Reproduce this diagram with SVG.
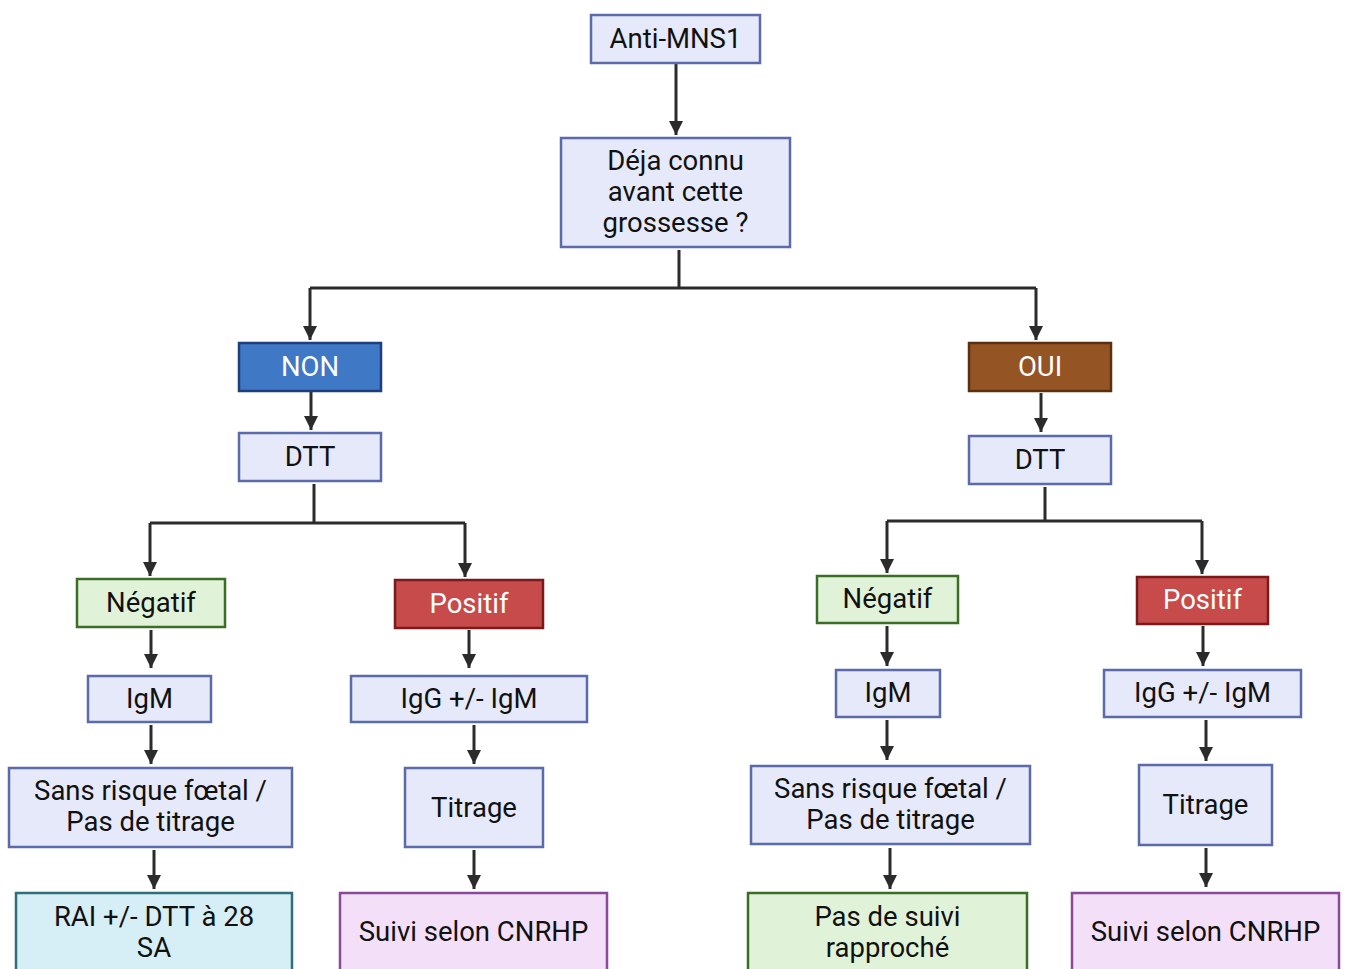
<svg xmlns="http://www.w3.org/2000/svg" width="1346" height="969" viewBox="0 0 1346 969">
<defs>
<marker id="ah" markerUnits="userSpaceOnUse" markerWidth="16" markerHeight="16" viewBox="0 0 16 16" refX="14" refY="8" orient="auto">
<path d="M0,1 L14,8 L0,15 Z" fill="#2b2b2b"/>
</marker>
<style>
rect{stroke-width:2.5}
.b{fill:#e5e9f9;stroke:#5a6aaa}
.non{fill:#3f78c4;stroke:#1f3e7e}
.oui{fill:#955423;stroke:#5a3010}
.neg{fill:#e0f3d9;stroke:#3a6e25}
.pos{fill:#c84b4b;stroke:#7a1a1a}
.rai{fill:#d6eef5;stroke:#2f6f7a}
.sv{fill:#f3e0f8;stroke:#8a4a9a}
.psv{fill:#e0f3d9;stroke:#3a6e25}
text{font-family:Roboto,"Liberation Sans",sans-serif;font-size:27.5px;fill:#111;text-anchor:middle}
text.w{fill:#fff}
.c path,.c line{stroke:#2b2b2b;stroke-width:3;fill:none}
</style>
</defs>
<rect width="1346" height="969" fill="#fff" style="stroke:none"/>
<g class="c" id="connectors">
<line x1="676" y1="63" x2="676" y2="135" marker-end="url(#ah)"/>
<path d="M679,250 V288"/>
<path d="M310,288 H1036"/>
<line x1="310" y1="288" x2="310" y2="340" marker-end="url(#ah)"/>
<line x1="1036" y1="288" x2="1036" y2="340" marker-end="url(#ah)"/>
<line x1="311" y1="391" x2="311" y2="430" marker-end="url(#ah)"/>
<path d="M314,484 V523 M150,523 H465"/>
<line x1="150" y1="523" x2="150" y2="576" marker-end="url(#ah)"/>
<line x1="465" y1="523" x2="465" y2="577" marker-end="url(#ah)"/>
<line x1="151" y1="630" x2="151" y2="668" marker-end="url(#ah)"/>
<line x1="151" y1="725" x2="151" y2="764" marker-end="url(#ah)"/>
<line x1="154" y1="850" x2="154" y2="889" marker-end="url(#ah)"/>
<line x1="469" y1="630" x2="469" y2="668" marker-end="url(#ah)"/>
<line x1="474" y1="725" x2="474" y2="764" marker-end="url(#ah)"/>
<line x1="474" y1="850" x2="474" y2="889" marker-end="url(#ah)"/>
<line x1="1041" y1="393" x2="1041" y2="432" marker-end="url(#ah)"/>
<path d="M1045,487 V521 M887,521 H1202"/>
<line x1="887" y1="521" x2="887" y2="573" marker-end="url(#ah)"/>
<line x1="1202" y1="521" x2="1202" y2="574" marker-end="url(#ah)"/>
<line x1="887" y1="626" x2="887" y2="666" marker-end="url(#ah)"/>
<line x1="887" y1="720" x2="887" y2="760" marker-end="url(#ah)"/>
<line x1="890" y1="848" x2="890" y2="889" marker-end="url(#ah)"/>
<line x1="1203" y1="626" x2="1203" y2="666" marker-end="url(#ah)"/>
<line x1="1206" y1="720" x2="1206" y2="761" marker-end="url(#ah)"/>
<line x1="1206" y1="848" x2="1206" y2="887" marker-end="url(#ah)"/>
</g>
<g id="anti"><rect class="b" x="591" y="15" width="169" height="48"/><text x="675.5" y="48">Anti-MNS1</text></g>
<g id="deja"><rect class="b" x="561" y="138" width="229" height="109"/><text x="675.5" y="170">Déja connu</text><text x="675.5" y="201">avant cette</text><text x="675.5" y="232">grossesse ?</text></g>
<g id="non"><rect class="non" x="239" y="343" width="142" height="48"/><text class="w" x="310" y="376">NON</text></g>
<g id="dtt1"><rect class="b" x="239" y="433" width="142" height="48"/><text x="310" y="466">DTT</text></g>
<g id="neg1"><rect class="neg" x="77" y="579" width="148" height="48"/><text x="151" y="612">Négatif</text></g>
<g id="pos1"><rect class="pos" x="395" y="580" width="148" height="48"/><text class="w" x="469" y="613">Positif</text></g>
<g id="igm1"><rect class="b" x="88" y="676" width="123" height="46"/><text x="149.5" y="708">IgM</text></g>
<g id="sans1"><rect class="b" x="9" y="768" width="283" height="79"/><text x="150.5" y="800">Sans risque fœtal /</text><text x="150.5" y="831">Pas de titrage</text></g>
<g id="rai"><rect class="rai" x="16" y="893" width="276" height="90"/><text x="154" y="926">RAI +/- DTT à 28</text><text x="154" y="957">SA</text></g>
<g id="igg1"><rect class="b" x="351" y="676" width="236" height="46"/><text x="469" y="708">IgG +/- IgM</text></g>
<g id="tit1"><rect class="b" x="405" y="768" width="138" height="79"/><text x="474" y="817">Titrage</text></g>
<g id="suivi1"><rect class="sv" x="340" y="893" width="267" height="90"/><text x="473.5" y="941">Suivi selon CNRHP</text></g>
<g id="oui"><rect class="oui" x="969" y="343" width="142" height="48"/><text class="w" x="1040" y="376">OUI</text></g>
<g id="dtt2"><rect class="b" x="969" y="436" width="142" height="48"/><text x="1040" y="469">DTT</text></g>
<g id="neg2"><rect class="neg" x="817" y="576" width="141" height="47"/><text x="887.5" y="608">Négatif</text></g>
<g id="pos2"><rect class="pos" x="1137" y="577" width="131" height="47"/><text class="w" x="1202.5" y="609">Positif</text></g>
<g id="igm2"><rect class="b" x="836" y="670" width="104" height="47"/><text x="888" y="702">IgM</text></g>
<g id="sans2"><rect class="b" x="751" y="766" width="279" height="78"/><text x="890.5" y="798">Sans risque fœtal /</text><text x="890.5" y="829">Pas de titrage</text></g>
<g id="pds"><rect class="psv" x="748" y="893" width="279" height="90"/><text x="887.5" y="926">Pas de suivi</text><text x="887.5" y="957">rapproché</text></g>
<g id="igg2"><rect class="b" x="1104" y="670" width="197" height="47"/><text x="1202.5" y="702">IgG +/- IgM</text></g>
<g id="tit2"><rect class="b" x="1139" y="765" width="133" height="80"/><text x="1205.5" y="814">Titrage</text></g>
<g id="suivi2"><rect class="sv" x="1072" y="893" width="267" height="90"/><text x="1205.5" y="941">Suivi selon CNRHP</text></g>
</svg>
